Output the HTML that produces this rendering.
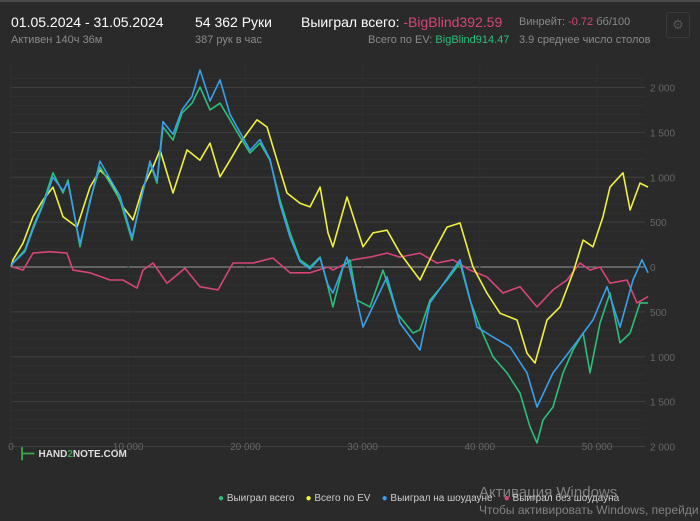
<!DOCTYPE html>
<html><head><meta charset="utf-8"><style>
body{margin:0;width:700px;height:521px;background:#2a2a2a;overflow:hidden;font-family:"Liberation Sans",sans-serif;position:relative}
.t{position:absolute;white-space:nowrap}
</style></head><body>
<div style="position:absolute;left:0;top:0;width:700px;height:2px;background:#4a4a4a"></div>
<div class="t" style="left:11px;top:14px;font-size:14px;color:#fff">01.05.2024 - 31.05.2024</div>
<div class="t" style="left:11px;top:34px;font-size:11px;color:#8a8a8a">Активен 140ч 36м</div>
<div class="t" style="left:195px;top:14px;font-size:14px;color:#fff">54 362 Руки</div>
<div class="t" style="left:195px;top:34px;font-size:11px;color:#8a8a8a">387 рук в час</div>
<div class="t" style="left:301px;top:14px;font-size:14px;color:#fff">Выиграл всего: <span style="color:#d6457a">-BigBlind392.59</span></div>
<div class="t" style="left:368px;top:34px;font-size:11px;color:#8a8a8a">Всего по EV: <span style="color:#2bbf7a">BigBlind914.47</span></div>
<div class="t" style="left:519px;top:16px;font-size:11px;color:#8a8a8a">Винрейт: <span style="color:#d6457a">-0.72</span> бб/100</div>
<div class="t" style="left:519px;top:34px;font-size:11px;color:#8a8a8a">3.9 среднее число столов</div>
<div style="position:absolute;left:666px;top:12px;width:22px;height:24px;border:1px solid #3a3a3a;border-radius:3px;color:#555;font-size:13px;text-align:center;line-height:24px">⚙</div>
<svg id="chart" width="700" height="521" style="position:absolute;left:0;top:0"></svg>
<div class="t" style="left:20px;top:444px;font-size:10px;color:#ddd;font-weight:bold"><span style="color:#3aa64a;font-size:18px;vertical-align:middle">⊢</span> HAND<span style="color:#3aa64a">2</span>NOTE.COM</div>
<div class="t" style="left:218px;top:493px;font-size:10px;color:#ccc">
<span><span style="color:#2bbf7a">●</span> Выиграл всего</span>&nbsp;&nbsp;&nbsp;
<span><span style="color:#f0f040">●</span> Всего по EV</span>&nbsp;&nbsp;&nbsp;
<span><span style="color:#3b9fe8">●</span> Выиграл на шоудауне</span>&nbsp;&nbsp;&nbsp;
<span><span style="color:#d6457a">●</span> Выиграл без шоудауна</span></div>
<div class="t" style="left:479px;top:484px;font-size:15px;color:rgba(200,200,200,0.55)">Активация Windows</div>
<div class="t" style="left:479px;top:503px;font-size:12px;color:rgba(200,200,200,0.55)">Чтобы активировать Windows, перейди</div>
<script>
const xTicks=[0,10000,20000,30000,40000,50000];
const xTickLabels=["0","10 000","20 000","30 000","40 000","50 000"];
const yTicks=[2000,1500,1000,500,0,-500,-1000,-1500,-2000];
const yTickLabels=["2 000","1 500","1 000","500","0","500","1 000","1 500","2 000"];
const greenHk=[0,0.17,1.19,1.88,2.73,3.58,4.44,4.86,5.89,6.74,7.59,8.45,9.30,10.32,11.01,11.86,12.46,12.97,13.82,14.59,15.44,16.13,16.98,17.83,18.69,19.54,20.39,21.25,22.10,22.95,23.81,24.66,25.51,26.37,27.05,27.47,28.33,28.92,29.52,30.63,31.74,32.94,34.30,34.90,35.75,37.20,38.31,39.16,40.02,41.13,42.32,43.43,44.28,44.88,45.39,46.25,47.10,47.95,48.81,49.40,50.26,51.11,51.96,52.82,53.67,54.36];
const greenVals=[0,45,190,445,710,1050,825,970,225,745,1115,935,745,300,710,1160,935,1560,1415,1715,1825,2005,1750,1825,1640,1450,1270,1380,1190,745,380,80,0,110,-220,-445,0,80,-370,-445,-35,-515,-735,-700,-370,-145,45,-370,-670,-1000,-1180,-1405,-1780,-1960,-1705,-1560,-1180,-925,-735,-1180,-625,-290,-845,-735,-400,-400];
const blueHk=[0,0.17,1.19,1.88,2.73,3.58,4.44,4.86,5.89,6.74,7.59,8.45,9.30,10.32,11.01,11.86,12.46,12.97,13.82,14.59,15.44,16.13,16.98,17.83,18.69,19.54,20.39,21.25,22.10,22.95,23.81,24.66,25.51,26.37,27.05,27.47,28.67,30.03,32.08,33.19,34.90,35.75,38.31,39.76,41.13,42.58,44.03,44.88,46.25,47.95,49.66,50.85,51.96,53.07,53.84,54.36];
const blueVals=[0,45,170,420,690,1000,850,940,260,720,1180,980,790,330,700,1180,960,1620,1480,1750,1900,2195,1850,2085,1700,1500,1300,1420,1200,700,330,60,-20,100,-200,-290,110,-670,-110,-625,-925,-400,80,-670,-780,-890,-1180,-1560,-1180,-890,-590,-220,-670,-145,80,-65];
const yellowHk=[0,0.17,1.02,1.88,2.73,3.58,4.44,5.63,6.74,7.59,8.45,9.56,10.41,11.26,12.12,12.71,13.82,15.02,16.13,16.98,17.83,18.69,19.54,20.99,21.84,22.70,23.55,24.66,25.51,26.37,27.05,27.47,28.67,30.03,30.89,32.08,33.19,34.90,36.01,37.20,38.31,39.42,40.61,41.72,43.17,44.03,44.71,45.73,46.84,47.95,48.81,49.66,50.51,51.11,52.22,52.82,53.67,54.36];
const yellowVals=[0,80,265,560,745,890,560,445,890,1080,970,670,525,890,1115,1305,825,1305,1190,1380,1005,1190,1380,1640,1560,1190,825,710,670,890,380,225,780,225,380,410,155,-145,155,445,490,0,-290,-515,-590,-960,-1070,-590,-445,-65,300,225,560,890,1050,635,935,890];
const pinkHk=[0,0.17,1.02,1.88,3.33,4.78,5.29,6.74,8.45,9.56,10.75,11.26,12.12,13.31,14.85,16.13,17.66,18.94,20.65,22.35,23.81,25.51,27.05,27.47,29.18,30.63,32.08,33.19,34.90,36.35,37.71,39.16,40.61,41.98,43.43,44.88,46.25,47.44,48.55,49.40,50.26,51.11,52.56,53.41,54.36];
const pinkVals=[0,0,-35,155,170,155,-35,-65,-145,-145,-235,-35,45,-180,-15,-220,-255,45,45,100,-65,-65,0,-35,80,110,155,110,155,45,80,-35,-110,-290,-220,-445,-255,-145,45,-35,0,-180,-145,-400,-330];

const svg=document.getElementById('chart');
const NS='http://www.w3.org/2000/svg';
const X0=11,XS=586/50000,Y0=267,YS=179.5/2000,PL=11,PR=645,PT=62,PB=455;
const xs=h=>X0+h*XS, ys=v=>Y0-v*YS;
function mk(tag,attrs){const e=document.createElementNS(NS,tag);for(const k in attrs)e.setAttribute(k,attrs[k]);svg.appendChild(e);return e;}
for(let v=-2000;v<=2100;v+=100){
  const l=mk('line',{x1:PL,x2:PR,y1:ys(v),y2:ys(v),stroke:v===0?'#9a9a9a':(v%500===0?'#404040':'#303030'),'stroke-width':1});
  
  
}
xTicks.forEach((t,i)=>{
  const l=mk('line',{x1:xs(t),x2:xs(t),y1:PT,y2:PB,stroke:'#303030','stroke-width':1});
  
  
  const tx=mk('text',{x:xs(t),y:450,'text-anchor':'middle','font-size':'10',fill:'#666','font-family':'Liberation Sans, sans-serif'});
  tx.textContent=xTickLabels[i];
  
  
});
yTicks.forEach((t,i)=>{
  const tx=mk('text',{x:650,y:ys(t)+4,'font-size':'10',fill:'#666','font-family':'Liberation Sans, sans-serif'});
  tx.textContent=yTickLabels[i];
  
  
});
function series(hk,vals,color,name){
  const n=Math.min(hk.length,vals.length);let d='';
  for(let i=0;i<n;i++)d+=(i?'L':'M')+xs(hk[i]*1000).toFixed(1)+','+ys(vals[i]).toFixed(1);
  const p=mk('path',{d:d,fill:'none',stroke:color,'stroke-width':1.6,'stroke-linejoin':'round'});
  
  
}
series(pinkHk,pinkVals,'#d6457a','series-non-showdown');
series(yellowHk,yellowVals,'#f0f040','series-ev');
series(greenHk,greenVals,'#2bbf7a','series-total');
series(blueHk,blueVals,'#3b9fe8','series-showdown');
</script>
</body></html>
